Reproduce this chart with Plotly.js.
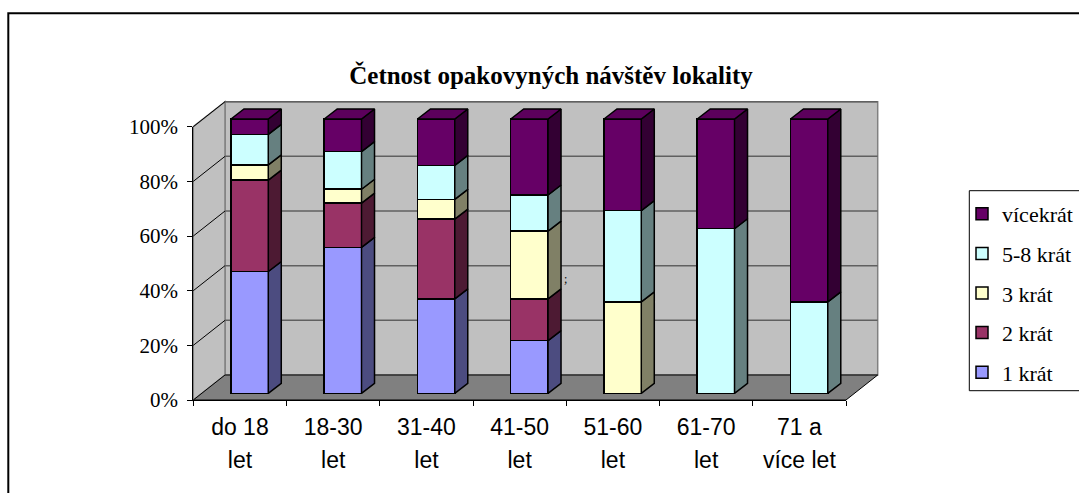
<!DOCTYPE html>
<html><head><meta charset="utf-8">
<script src="https://cdn.plot.ly/plotly-3.0.1.min.js"></script>
<style>html,body{margin:0;padding:0;background:#fff}</style>
</head><body><div id="chart" style="width:1079px;height:493px"></div>
<script>
// ---------------- DATA ----------------
const categories = ['do 18 let','18-30 let','31-40 let','41-50 let','51-60 let','61-70 let','71 a více let'];
const labelLine1 = ['do 18','18-30','31-40','41-50','51-60','61-70','71 a'];
const labelLine2 = ['let','let','let','let','let','let','více let'];
const seriesNames = ['1 krát','2 krát','3 krát','5-8 krát','vícekrát'];
const s1krat    = [44.4, 53.2, 34.4, 19.2, 0,    0,    0];
const s2krat    = [33.3, 16.1, 29.1, 15.2, 0,    0,    0];
const s3krat    = [5.6,  5.1,  7.2,  24.7, 33.3, 0,    0];
const s58krat   = [11.1, 13.7, 12.4, 13.2, 33.3, 60.0, 33.3];
const sVicekrat = [5.6,  11.9, 16.9, 27.7, 33.4, 40.0, 66.7];
const yTicks = [0, 20, 40, 60, 80, 100];
const chartTitle = 'Četnost opakovyných návštěv lokality';

// ---------------- STYLE / GEOMETRY ----------------
const W = 1079, H = 493;
const px = x => x / W, py = y => 1 - y / H;
const SERIF = '"Liberation Serif", "Times New Roman", Times, serif';
const SANS = '"Liberation Sans", Arial, Helvetica, sans-serif';
const frontColors = ['#9999FF', '#993366', '#FFFFCC', '#CCFFFF', '#660066'];
const sideColors  = ['#4C4C80', '#4D1A33', '#808066', '#668080', '#330033'];
const topColors   = ['#8A8AE6', '#8A2E5C', '#E6E6B8', '#B8E6E6', '#5C005C'];
// front plane (axes), back wall
const FX0 = 193.3, FX1 = 846, FY0 = 400, FY100 = 126.7;
const DX = 31.7, DY = -25;
const BX0 = FX0 + DX, BX1 = FX1 + DX, BY0 = FY0 + DY, BY100 = FY100 + DY;
// bar front plane
const catPx = 93.25, barLeft = 203, barY0 = 393.3, pxPerPct = 2.743;
const barW = 0.4;
const sdx = 13 / catPx, sdy = 10 / pxPerPct;
const mainDomX = [150, 900], mainDomY = [95, 420];

const series = [s1krat, s2krat, s3krat, s58krat, sVicekrat];
const idx = categories.map((_, i) => i);
const traces = [];

series.forEach((vals, k) => {
  traces.push({
    type: 'bar', x: idx, y: vals, name: seriesNames[k], legendgroup: seriesNames[k],
    legendrank: (series.length - k) * 10,
    marker: {color: frontColors[k], line: {color: '#000', width: 1.5}},
    xaxis: 'x', yaxis: 'y', hoverinfo: 'skip'
  });
});
// side faces
series.forEach((vals, k) => {
  const xs = [], ys = [];
  vals.forEach((v, i) => {
    if (!(v > 0)) return;
    let base = 0;
    for (let j = 0; j < k; j++) base += series[j][i];
    const top = base + v, xr = i + barW / 2;
    xs.push(xr, xr, xr + sdx, xr + sdx, xr, null);
    ys.push(base, top, top + sdy, base + sdy, base, null);
  });
  traces.push({type: 'scatter', mode: 'lines', x: xs, y: ys, fill: 'toself',
    fillcolor: sideColors[k], line: {color: '#000', width: 1.5},
    xaxis: 'x', yaxis: 'y', showlegend: false, hoverinfo: 'skip'});
});
// top faces
series.forEach((vals, k) => {
  const xs = [], ys = [];
  idx.forEach(i => {
    let topK = -1, total = 0;
    series.forEach((s, j) => { if (s[i] > 0) topK = j; total += s[i]; });
    if (topK !== k) return;
    const xl = i - barW / 2, xr = i + barW / 2;
    xs.push(xl, xr, xr + sdx, xl + sdx, xl, null);
    ys.push(total, total, total + sdy, total + sdy, total, null);
  });
  if (xs.length) traces.push({type: 'scatter', mode: 'lines', x: xs, y: ys, fill: 'toself',
    fillcolor: topColors[k], line: {color: '#000', width: 1.5},
    xaxis: 'x', yaxis: 'y', showlegend: false, hoverinfo: 'skip'});
});
// dummy traces to carry the front category axes
traces.push({type: 'scatter', mode: 'markers', x: labelLine1, y: labelLine1.map(() => null),
  xaxis: 'x2', yaxis: 'y2', showlegend: false, hoverinfo: 'skip'});
traces.push({type: 'scatter', mode: 'markers', x: idx, y: idx.map(() => null),
  xaxis: 'x3', yaxis: 'y2', showlegend: false, hoverinfo: 'skip'});

// walls and floor
const P = (x, y) => px(x) + ',' + py(y);
const shapes = [];
shapes.push({type: 'path', xref: 'paper', yref: 'paper', layer: 'below',
  path: `M${P(BX0, BY100)}L${P(BX1, BY100)}L${P(BX1, BY0)}L${P(BX0, BY0)}Z`,
  fillcolor: '#C0C0C0', line: {color: '#808080', width: 1.5}});
shapes.push({type: 'path', xref: 'paper', yref: 'paper', layer: 'below',
  path: `M${P(FX0, FY100)}L${P(BX0, BY100)}L${P(BX0, BY0)}L${P(FX0, FY0)}Z`,
  fillcolor: '#C0C0C0', line: {color: '#808080', width: 1.5}});
shapes.push({type: 'path', xref: 'paper', yref: 'paper', layer: 'below',
  path: `M${P(FX0, FY0)}L${P(FX1, FY0)}L${P(BX1, BY0)}L${P(BX0, BY0)}Z`,
  fillcolor: '#808080', line: {color: '#000', width: 1}});
yTicks.forEach(t => {
  const yb = BY0 + (BY100 - BY0) * t / 100;
  const yf = FY0 + (FY100 - FY0) * t / 100;
  if (t > 0) {
    shapes.push({type: 'line', xref: 'paper', yref: 'paper', layer: 'below',
      x0: px(BX0), x1: px(BX1), y0: py(yb), y1: py(yb), line: {color: '#606060', width: 1.5}});
    shapes.push({type: 'line', xref: 'paper', yref: 'paper', layer: 'below',
      x0: px(FX0), x1: px(BX0), y0: py(yf), y1: py(yb), line: {color: '#000', width: 1}});
  }
});
// chart border (cropped at right/bottom) and legend box
shapes.push({type: 'rect', xref: 'paper', yref: 'paper', x0: px(8.3), x1: px(1100), y0: py(13.3), y1: py(520),
  line: {color: '#000', width: 2}, fillcolor: 'rgba(0,0,0,0)'});
shapes.push({type: 'rect', xref: 'paper', yref: 'paper', x0: px(969.3), x1: px(1100), y0: py(190.7), y1: py(390.7),
  line: {color: '#000', width: 1}, fillcolor: 'rgba(0,0,0,0)'});

const layout = {
  width: W, height: H, margin: {l: 0, r: 0, t: 0, b: 0},
  paper_bgcolor: '#fff', plot_bgcolor: 'rgba(0,0,0,0)',
  barmode: 'stack', bargap: 1 - barW, hovermode: false,
  title: {text: chartTitle, x: px(551), xanchor: 'center', y: py(75), yanchor: 'middle',
    font: {family: SERIF, size: 25, weight: 'bold', color: '#000'}},
  xaxis: {domain: [px(mainDomX[0]), px(mainDomX[1])],
    range: [(mainDomX[0] - barLeft) / catPx - 0.5, (mainDomX[1] - barLeft) / catPx - 0.5],
    visible: false, fixedrange: true},
  yaxis: {domain: [py(mainDomY[1]), py(mainDomY[0])],
    range: [(barY0 - mainDomY[1]) / pxPerPct, (barY0 - mainDomY[0]) / pxPerPct],
    visible: false, fixedrange: true},
  xaxis2: {domain: [px(FX0), px(FX1)], anchor: 'y2', type: 'category',
    categoryorder: 'array', categoryarray: labelLine1, range: [-0.5, 6.5],
    tickson: 'boundaries', ticks: 'outside', ticklen: 5, tickcolor: '#000', tickwidth: 1,
    showline: true, linecolor: '#000', linewidth: 1, showgrid: false, zeroline: false,
    tickfont: {family: SANS, size: 23, color: '#000'}, ticklabelstandoff: 6, fixedrange: true},
  xaxis3: {overlaying: 'x2', anchor: 'y2', side: 'bottom', type: 'linear', range: [-0.5, 6.5],
    tickmode: 'array', tickvals: idx, ticktext: labelLine2, ticks: '', showline: false,
    showgrid: false, zeroline: false, ticklabelstandoff: 44,
    tickfont: {family: SANS, size: 23, color: '#000'}, fixedrange: true},
  yaxis2: {domain: [py(FY0), py(FY100)], anchor: 'x2', range: [0, 100],
    tickmode: 'array', tickvals: yTicks, ticktext: yTicks.map(t => t + '%'),
    ticks: 'outside', ticklen: 5, tickcolor: '#000', showline: true, linecolor: '#000', linewidth: 1,
    showgrid: false, zeroline: false, ticklabelstandoff: 5,
    tickfont: {family: SERIF, size: 21, color: '#000'}, fixedrange: true},
  legend: {x: px(962), y: py(193), xanchor: 'left', yanchor: 'top',
    traceorder: 'grouped', tracegroupgap: 8, bgcolor: 'rgba(0,0,0,0)', borderwidth: 0,
    font: {family: SERIF, size: 22, color: '#000'}},
  annotations: [{xref: 'paper', yref: 'paper', x: px(565), y: py(279), text: ';', showarrow: false,
    font: {family: SERIF, size: 12, color: '#000'}}],
  shapes: shapes
};

Plotly.newPlot('chart', traces, layout, {staticPlot: true, displayModeBar: false});
</script></body></html>
